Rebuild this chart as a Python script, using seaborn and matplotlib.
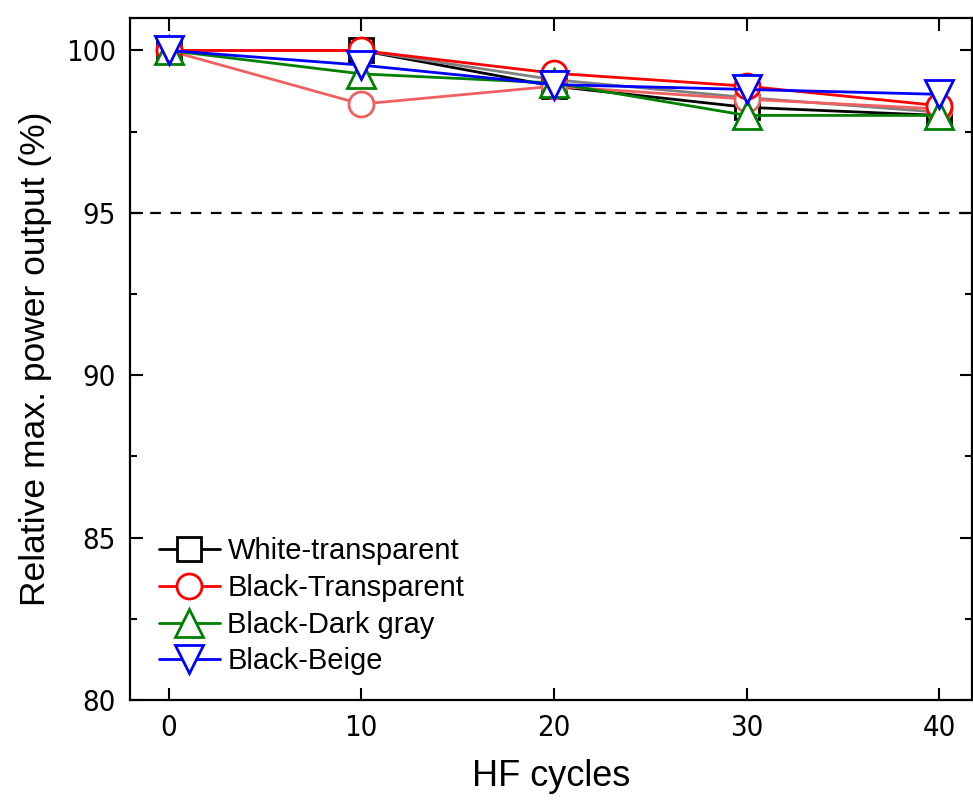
import matplotlib
matplotlib.use("Agg")
import matplotlib.pyplot as plt
from matplotlib import font_manager
from matplotlib.ticker import MultipleLocator
import seaborn as sns
import pandas as pd

# Donnees
cycles = [0, 10, 20, 30, 40]
white_transparent = [100.0, 100.0, 98.9, 98.25, 98.0]
white_transparent_b = [100.0, 100.0, 99.1, 98.55, 98.1]   # ligne grise (sans legende)
black_transparent = [100.0, 100.0, 99.3, 98.9, 98.3]
black_transparent_b = [100.0, 98.35, 98.9, 98.5, 98.2]    # ligne rouge claire (sans legende)
black_darkgray = [100.0, 99.28, 99.0, 98.0, 98.0]
black_beige = [100.0, 99.55, 98.95, 98.8, 98.65]
limit_95 = 95

sns.set_style("ticks")
plt.rcParams['font.family'] = ['Liberation Sans', 'DejaVu Sans']
plt.rcParams['text.color'] = 'black'
plt.rcParams['axes.labelcolor'] = 'black'
plt.rcParams['xtick.color'] = 'black'
plt.rcParams['ytick.color'] = 'black'

# police etroite pour les graduations si disponible
installed = {f.name for f in font_manager.fontManager.ttflist}
narrow = 'Liberation Sans Narrow' if 'Liberation Sans Narrow' in installed else None

fig = plt.figure(figsize=(9.73, 8.10), dpi=100)
ax = fig.add_axes([130 / 973, 110 / 810, 842 / 973, 682 / 810])

LW = 2.0
series = [
    (white_transparent, 'black', 's', 17, 'White-transparent'),
    (white_transparent_b, '#808080', None, 0, None),
    (black_transparent_b, '#f06060', 'o', 18, None),
    (black_transparent, 'red', 'o', 18, 'Black-Transparent'),
    (black_darkgray, 'green', '^', 20, 'Black-Dark gray'),
    (black_beige, 'blue', 'v', 20, 'Black-Beige'),
]

for vals, col, mk, ms, lab in series:
    df = pd.DataFrame({'x': cycles, 'y': vals})
    kw = dict(data=df, x='x', y='y', ax=ax, color=col, linewidth=LW,
              legend=False, zorder=3)
    if mk is not None:
        kw.update(marker=mk, markersize=ms, markerfacecolor='white',
                  markeredgecolor=col, markeredgewidth=LW)
    sns.lineplot(**kw)

# Ligne de reference 95 %
ax.axhline(limit_95, color='black', linestyle=(0, (4.8, 4.3)), linewidth=1.6, zorder=2)

ax.set_xlim(-2, 41.7)
ax.set_ylim(80, 101)
ax.xaxis.set_major_locator(MultipleLocator(10))
ax.yaxis.set_major_locator(MultipleLocator(5))
ax.yaxis.set_minor_locator(MultipleLocator(2.5))
ax.tick_params(which='both', direction='in', top=True, right=True, width=1.5)
ax.tick_params(which='major', length=9, labelsize=21, pad=10)
ax.tick_params(which='minor', length=5)
for lbl in ax.get_xticklabels() + ax.get_yticklabels():
    if narrow:
        lbl.set_family([narrow, 'Liberation Sans'])
    else:
        lbl.set_family(['DejaVu Sans'])
        lbl.set_stretch('condensed')
for sp in ax.spines.values():
    sp.set_linewidth(1.6)
    sp.set_color('black')

ax.set_xlabel('HF cycles', fontsize=26, labelpad=12)
ax.set_ylabel('Relative max. power output (%)', fontsize=25.5, labelpad=10)

# Legende (4 series principales)
handles = []
for vals, col, mk, ms, lab in series:
    if lab is None:
        continue
    h, = ax.plot([], [], color=col, marker=mk, markersize=ms, markerfacecolor='white',
                 markeredgecolor=col, markeredgewidth=LW, linewidth=LW, label=lab)
    handles.append(h)
ax.legend(handles=handles, loc='lower left', frameon=False, fontsize=21,
          handlelength=2.1, labelspacing=0.3, handletextpad=0.25,
          bbox_to_anchor=(0.01, 0.006), borderaxespad=0.3)

fig.savefig('out.png', dpi=100)
